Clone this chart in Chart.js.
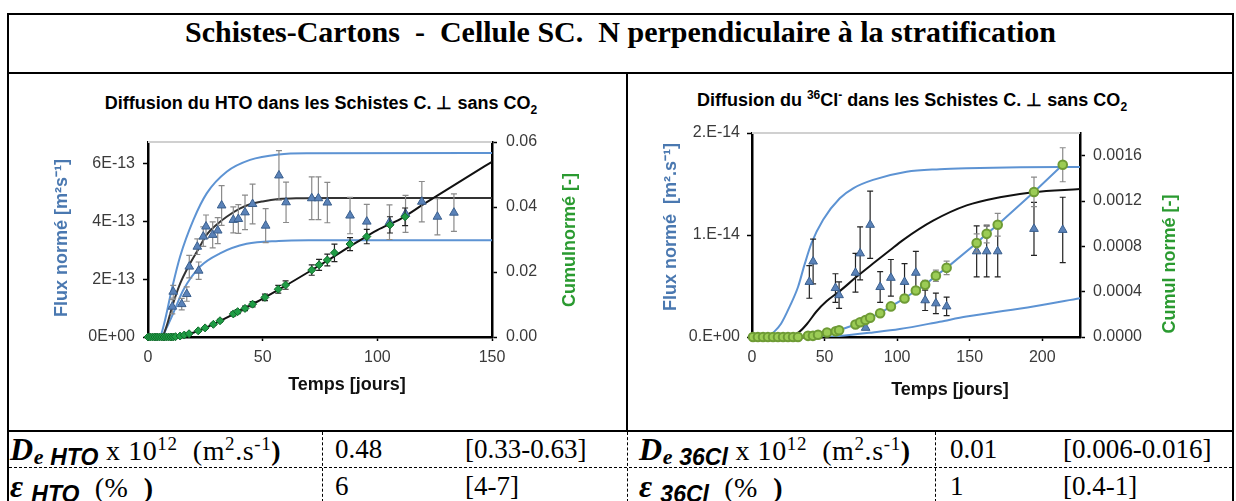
<!DOCTYPE html>
<html>
<head>
<meta charset="utf-8">
<script src="https://cdn.jsdelivr.net/npm/chart.js@4.4.1/dist/chart.umd.min.js"></script>
<style>
  body { margin:0; width:1236px; height:501px; overflow:hidden; background:#fff; position:relative; font-family:"Liberation Sans", Arial, sans-serif; }
  .ln { position:absolute; background:#000; }
  .hd { position:absolute; left:9px; top:15px; width:1223px; height:57px; line-height:57px; text-align:center; font:bold 30px "Liberation Serif", serif; white-space:pre; }
  .ct { position:absolute; font-weight:bold; font-size:18px; text-align:center; white-space:nowrap; line-height:22px; }
  .ct sub, .ct sup { font-size:12px; line-height:0; }
  canvas { position:absolute; top:74px; }
  .tx { position:absolute; font-family:"Liberation Serif", serif; font-size:27px; white-space:pre; line-height:34px; }
  .lb { font-size:28px; letter-spacing:0.6px; }
  .tx .D { font-size:32px; }
  .tx sup { font-size:19px; line-height:0; vertical-align:10px; }
  .tx .sb { font:italic bold 23px "Liberation Sans", sans-serif; vertical-align:-5px; letter-spacing:0; }
  .tx .se { font:italic bold 22px "Liberation Serif", serif; vertical-align:-4px; }
  .dv { position:absolute; top:432px; height:70px; border-left:1px dashed #000; }
  .dh { position:absolute; top:467px; height:0; border-top:1px dashed #000; }
</style>
</head>
<body>
<div class="ln" style="left:7px;top:13px;width:1227px;height:2px"></div>
<div class="ln" style="left:7px;top:13px;width:2px;height:490px"></div>
<div class="ln" style="left:1232px;top:13px;width:2px;height:490px"></div>
<div class="ln" style="left:7px;top:72px;width:1227px;height:2px"></div>
<div class="ln" style="left:626px;top:72px;width:2px;height:359px"></div>
<div class="ln" style="left:7px;top:430px;width:1227px;height:2px"></div>
<div class="dv" style="left:627px"></div>
<div class="dv" style="left:322px"></div>
<div class="dv" style="left:935px"></div>
<div class="dh" style="left:9px;width:1223px"></div>

<div class="hd">Schistes-Cartons  -  Cellule SC.  N perpendiculaire à la stratification</div>

<div class="ct" style="left:9px;width:624px;top:92px">Diffusion du HTO dans les Schistes C. ⊥ sans CO<sub>2</sub></div>
<div class="ct" style="left:630px;width:564px;top:89px">Diffusion du <sup>36</sup>Cl<sup>-</sup> dans les Schistes C. ⊥ sans CO<sub>2</sub></div>

<canvas id="hto" width="617" height="355" style="left:9px"></canvas>
<canvas id="cl" width="602" height="355" style="left:630px"></canvas>

<div class="tx lb" style="left:10px;top:432px"><b><i class="D">D</i></b><span class="se">e </span><span class="sb">HTO</span> x 10<sup>12</sup>  (m<sup>2</sup>.s<sup>-1</sup><b>)</b></div>
<div class="tx" style="left:335px;top:432px">0.48</div>
<div class="tx" style="left:465px;top:432px">[0.33-0.63]</div>
<div class="tx lb" style="left:10px;top:469px"><b><i class="D">ε</i></b> <span class="sb">HTO</span>  (%  <b>)</b></div>
<div class="tx" style="left:335px;top:469px">6</div>
<div class="tx" style="left:465px;top:469px">[4-7]</div>

<div class="tx lb" style="left:639px;top:432px"><b><i class="D">D</i></b><span class="se">e </span><span class="sb">36Cl</span> x 10<sup>12</sup>  (m<sup>2</sup>.s<sup>-1</sup><b>)</b></div>
<div class="tx" style="left:950px;top:432px">0.01</div>
<div class="tx" style="left:1063px;top:432px">[0.006-0.016]</div>
<div class="tx lb" style="left:639px;top:469px"><b><i class="D">ε</i></b> <span class="sb">36Cl</span>  (%  <b>)</b></div>
<div class="tx" style="left:950px;top:469px">1</div>
<div class="tx" style="left:1063px;top:469px">[0.4-1]</div>

<script>
// ---------- HTO (flux in 1e-13 m2/s, cumul in [-]) ----------
const htoDays = [10.6, 11.0, 14.7, 16.9, 18.0, 21.5, 22.1, 24.1, 25.3, 28.2, 30.4, 32.1, 37.2, 39.4, 42.3, 45.6, 51.3, 57.1, 60.2, 71.4, 74.3, 78.2, 88.1, 95.4, 105.3, 112.3, 119.4, 126.2, 133.4];
const htoFlux = [1.05, 1.57, 1.14, 1.49, 2.44, 3.13, 2.30, 3.48, 3.83, 3.54, 3.69, 4.56, 4.06, 4.09, 4.32, 4.61, 3.86, 5.60, 4.67, 4.81, 4.81, 4.66, 4.21, 4.00, 3.98, 4.27, 4.69, 4.17, 4.31];
const htoFluxErr = [0.25, 0.22, 0.2, 0.25, 0.39, 0.27, 0.3, 0.34, 0.4, 0.45, 0.45, 0.69, 0.45, 0.5, 0.6, 0.69, 0.59, 0.86, 0.7, 0.74, 0.74, 0.7, 0.63, 0.6, 0.6, 0.64, 0.7, 0.63, 0.65];

const htoCumDays = [0, 1, 2, 3, 4, 5, 6, 7, 8, 9, 10, 11, 12, 14.0, 15.8, 17.9, 21.9, 24.9, 28.5, 31.4, 37.2, 39.1, 42.3, 45.6, 51.0, 56.8, 60.0, 71.4, 74.6, 78.2, 81.3, 88.1, 95.4, 105.5, 112.1];
const htoCum = [0, 0, 0, 0, 0, 0, 0, 0, 0, 0, 0, 0, 0.0001, 0.0003, 0.0006, 0.0010, 0.0019, 0.0028, 0.0039, 0.0050, 0.0071, 0.0078, 0.0088, 0.0101, 0.0122, 0.0147, 0.0160, 0.0206, 0.0222, 0.0237, 0.0259, 0.0286, 0.0309, 0.0345, 0.0370];
const htoCumErr = [0, 0, 0, 0, 0, 0, 0, 0, 0, 0, 0, 0, 0, 0, 0.0001, 0.0001, 0.0002, 0.0002, 0.0003, 0.0004, 0.0006, 0.0006, 0.0007, 0.0008, 0.001, 0.0012, 0.0013, 0.0016, 0.0017, 0.0018, 0.0027, 0.002, 0.0022, 0.0025, 0.0027];

const htoFitDays = [0, 6, 8, 11, 14, 18, 22, 25.6, 30, 34.3, 40, 44.5, 50, 57, 65, 80, 150];
const htoFitFlux = [0, 0, 0.35, 1.17, 1.85, 2.5, 3.05, 3.55, 3.9, 4.17, 4.45, 4.6, 4.7, 4.78, 4.81, 4.82, 4.82];
const htoHighDays = [0, 5, 7, 10.3, 14, 19.8, 25.6, 34.3, 44.5, 57, 70, 150];
const htoHighFlux = [0, 0, 0.45, 1.63, 2.79, 4.06, 4.98, 5.73, 6.14, 6.33, 6.37, 6.38];
const htoLowDays = [0, 6, 8, 11, 15.4, 22.7, 31.4, 43, 57, 70, 150];
const htoLowFlux = [0, 0, 0.3, 0.82, 1.63, 2.44, 2.9, 3.23, 3.33, 3.35, 3.35];
const htoCumFitDays = [0, 12, 16, 20, 25, 30, 35, 40, 45.6, 50, 60, 70, 80, 90, 100, 110, 120, 130, 140, 150];
const htoCumFit = [0, 0, 0.0006, 0.0014, 0.0028, 0.0044, 0.0062, 0.0081, 0.0101, 0.0118, 0.0158, 0.0200, 0.0243, 0.0287, 0.0329, 0.0363, 0.0408, 0.0452, 0.0496, 0.0539];

const htoDayTicks = [0, 50, 100, 150];
const htoFluxTicks = [0, 2e-13, 4e-13, 6e-13];
const htoFluxLabels = ['0E+00', '2E-13', '4E-13', '6E-13'];
const htoCumTicks = [0, 0.02, 0.04, 0.06];
const htoCumLabels = ['0.00', '0.02', '0.04', '0.06'];

// ---------- 36Cl (flux in 1e-14 m2/s, cumul in [-]) ----------
const clDays = [39.5, 42.1, 57.5, 60.0, 71.3, 74.5, 78.3, 81.4, 88.3, 95.7, 105.1, 112.9, 119.3, 126.7, 134.1, 154.8, 161.7, 169.3, 194.3, 214.1];
const clFlux = [0.54, 0.74, 0.48, 0.41, 0.63, 0.82, 0.09, 1.10, 0.49, 0.58, 0.54, 0.63, 0.36, 0.33, 0.30, 0.84, 0.84, 0.84, 1.06, 1.05];
const clFluxErr = [0.16, 0.22, 0.14, 0.13, 0.19, 0.26, 0, 0.33, 0.15, 0.18, 0.18, 0.21, 0.10, 0.10, 0.09, 0.25, 0.25, 0.25, 0.26, 0.32];

const clCumDays = [0.7, 4.1, 7.6, 11, 14.5, 17.9, 21.4, 24.8, 28.3, 31.7, 38.6, 42, 45.5, 51.7, 57.7, 60, 71.3, 74.5, 78.2, 81.4, 88.3, 95.7, 105.1, 112.9, 119.3, 126.7, 134.1, 154.8, 161.7, 169.3, 194.3, 214.1];
const clCum = [0, 0, 0, 0, 0, 0, 0, 0, 0, 0, 0.00001, 0.00001, 0.00002, 0.00004, 0.00005, 0.00006, 0.00011, 0.00013, 0.00015, 0.00017, 0.00021, 0.00027, 0.00034, 0.00041, 0.00046, 0.00054, 0.00061, 0.00083, 0.00091, 0.00099, 0.00128, 0.00152];
const clCumErr = [0, 0, 0, 0, 0, 0, 0, 0, 0, 0, 0, 0, 0, 0.000005, 0.000005, 0.000005, 0.00001, 0.00001, 0.00001, 0.00001, 0.00002, 0.00002, 0.00003, 0.00003, 0.00004, 0.00005, 0.00006, 0.00008, 0.00008, 0.0001, 0.00013, 0.00015];

const clFitDays = [0, 26, 33, 38, 44.4, 51.3, 60.5, 72, 83.4, 95, 104, 124.8, 147.9, 170.8, 193.8, 226];
const clFitFlux = [0, 0, 0.055, 0.13, 0.25, 0.35, 0.45, 0.59, 0.72, 0.85, 0.95, 1.14, 1.29, 1.37, 1.42, 1.45];
const clHighDays = [0, 11, 14.5, 20, 26, 31.7, 36, 41, 49, 60.5, 70, 83.4, 106.5, 129.4, 147.9, 185, 226];
const clHighFlux = [0, 0, 0.04, 0.13, 0.30, 0.49, 0.70, 0.92, 1.15, 1.36, 1.46, 1.54, 1.62, 1.645, 1.655, 1.665, 1.667];
const clLowDays = [0, 46.6, 60, 83.4, 101.8, 129.4, 147.8, 193.8, 226];
const clLowFlux = [0, 0, 0.01, 0.045, 0.078, 0.15, 0.20, 0.30, 0.38];

const clDayTicks = [0, 50, 100, 150, 200];
const clFluxTicks = [0, 1e-14, 2e-14];
const clFluxLabels = ['0.E+00', '1.E-14', '2.E-14'];
const clCumTicks = [0, 0.0004, 0.0008, 0.0012, 0.0016];
const clCumLabels = ['0.0000', '0.0004', '0.0008', '0.0012', '0.0016'];

const BLUE = '#5d93d3';
const TBLUE = '#4a78b0';
const TGREEN = '#2a9a30';
const FONT = "'Liberation Sans', Arial, sans-serif";

function pts(xs, ys, k) {
    return xs.map((x, i) => ({ x: x, y: ys[i] * (k || 1) }));
}

// vertical error bars drawn under each dataset's markers
const errorBars = {
    id: 'errorBars',
    beforeDatasetDraw(chart, args) {
        const ds = chart.data.datasets[args.index];
        if (!ds.err) return;
        const ys = chart.scales[ds.yAxisID];
        const ctx = chart.ctx;
        ctx.save();
        ctx.strokeStyle = ds.errColor;
        ctx.lineWidth = 1.2;
        args.meta.data.forEach((pt, i) => {
            const e = ds.err[i] * (ds.errScale || 1);
            if (!e) return;
            const v = ds.data[i].y;
            const t = ys.getPixelForValue(v + e), b = ys.getPixelForValue(v - e);
            ctx.beginPath();
            ctx.moveTo(pt.x, t); ctx.lineTo(pt.x, b);
            ctx.moveTo(pt.x - 3, t); ctx.lineTo(pt.x + 3, t);
            ctx.moveTo(pt.x - 3, b); ctx.lineTo(pt.x + 3, b);
            ctx.stroke();
        });
        ctx.restore();
    }
};

// light grey line on top of the plot area
const frameTop = {
    id: 'frameTop',
    beforeDatasetsDraw(chart) {
        const a = chart.chartArea, c = chart.ctx;
        c.save();
        c.strokeStyle = '#d0d0d0';
        c.lineWidth = 2;
        c.beginPath();
        c.moveTo(a.left, a.top); c.lineTo(a.right, a.top);
        c.stroke();
        c.restore();
    }
};

// axis titles placed like the Excel originals (both vertical ones read upward)
function axisTitles(items) {
    return {
        id: 'axisTitles',
        afterDraw(chart) {
            const c = chart.ctx;
            items.forEach(t => {
                c.save();
                c.font = 'bold 18px ' + FONT;
                c.fillStyle = t.color;
                c.textAlign = 'center';
                c.textBaseline = 'middle';
                c.translate(t.x, t.y);
                if (t.rot) c.rotate(-Math.PI / 2);
                c.fillText(t.text, 0, 0);
                c.restore();
            });
        }
    };
}

function axis(pos, max, ticks, labels, size, pad) {
    const vertical = pos !== 'bottom';
    return {
        type: 'linear',
        position: pos,
        min: 0,
        max: max,
        afterBuildTicks: s => { s.ticks = ticks.map(v => ({ value: v })); },
        afterFit: s => { if (vertical) s.width = size; else s.height = size; },
        ticks: {
            autoSkip: false,
            maxRotation: 0,
            padding: pad,
            color: '#3a3a3a',
            font: { family: FONT, size: 16 },
            callback: (v, i) => labels ? labels[i] : String(v)
        },
        grid: { drawOnChartArea: false, tickLength: vertical ? 5 : 4, tickColor: '#000', tickWidth: 1.5 },
        border: { color: '#000', width: 2.5 },
        title: { display: false }
    };
}

function marker(data, axisId, style, bg, edge, r, err, errColor, errScale) {
    return { data: data, yAxisID: axisId, pointStyle: style, backgroundColor: bg, borderColor: edge,
        borderWidth: 1, pointRadius: r, pointHoverRadius: r, showLine: false, clip: false,
        err: err, errColor: errColor, errScale: errScale };
}

function curve(data, axisId, color, w) {
    return { data: data, yAxisID: axisId, showLine: true, borderColor: color, borderWidth: w || 2,
        pointRadius: 0, cubicInterpolationMode: 'monotone', fill: false };
}

const common = {
    responsive: false,
    animation: false,
    devicePixelRatio: 1,
    plugins: { legend: { display: false }, tooltip: { enabled: false } }
};

new Chart(document.getElementById('hto'), {
    type: 'scatter',
    data: {
        datasets: [
            marker(pts(htoCumDays, htoCum), 'y1', 'rectRot', '#1f9d45', '#0f6a2a', 4, htoCumErr, '#222'),
            marker(pts(htoDays, htoFlux, 1e-13), 'y', 'triangle', '#5a82b8', '#3a5f8e', 5, htoFluxErr, '#8a8a8a', 1e-13),
            curve(pts(htoCumFitDays, htoCumFit), 'y1', '#111'),
            curve(pts(htoFitDays, htoFitFlux, 1e-13), 'y', '#333'),
            curve(pts(htoHighDays, htoHighFlux, 1e-13), 'y', BLUE),
            curve(pts(htoLowDays, htoLowFlux, 1e-13), 'y', BLUE)
        ]
    },
    options: Object.assign({}, common, {
        layout: { padding: { top: 68, left: 0, right: 0, bottom: 0 } },
        scales: {
            x: axis('bottom', 150, htoDayTicks, null, 92, 7),
            y: axis('left', 6.76e-13, htoFluxTicks, htoFluxLabels, 139, 8),
            y1: axis('right', 0.06, htoCumTicks, htoCumLabels, 134, 9)
        }
    }),
    plugins: [errorBars, frameTop, axisTitles([
        { text: 'Flux normé [m²s⁻¹]', x: 53, y: 164, rot: true, color: TBLUE },
        { text: 'Cumulnormé [-]', x: 561, y: 166, rot: true, color: TGREEN },
        { text: 'Temps [jours]', x: 338, y: 311, color: '#111' }
    ])]
});

new Chart(document.getElementById('cl'), {
    type: 'scatter',
    data: {
        datasets: [
            Object.assign(marker(pts(clCumDays, clCum), 'y1', 'circle', '#9bcc55', '#6e9b35', 4.3, clCumErr, '#8a8a8a'),
                { showLine: true, borderColor: BLUE, borderWidth: 2, pointBorderColor: '#6e9b35' }),
            marker(pts(clDays, clFlux, 1e-14), 'y', 'triangle', '#5a82b8', '#3a5f8e', 5, clFluxErr, '#222', 1e-14),
            curve(pts(clFitDays, clFitFlux, 1e-14), 'y', '#111'),
            curve(pts(clHighDays, clHighFlux, 1e-14), 'y', BLUE),
            curve(pts(clLowDays, clLowFlux, 1e-14), 'y', BLUE)
        ]
    },
    options: Object.assign({}, common, {
        layout: { padding: { top: 59, left: 0, right: 0, bottom: 0 } },
        scales: {
            x: axis('bottom', 226, clDayTicks, null, 92, 7),
            y: axis('left', 2e-14, clFluxTicks, clFluxLabels, 122, 7),
            y1: axis('right', 0.0018, clCumTicks, clCumLabels, 152, 8)
        }
    }),
    plugins: [errorBars, frameTop, axisTitles([
        { text: 'Flux normé  [m².s⁻¹]', x: 41, y: 153, rot: true, color: TBLUE },
        { text: 'Cumul normé [-]', x: 540, y: 190, rot: true, color: TGREEN },
        { text: 'Temps [jours]', x: 320, y: 316, color: '#111' }
    ])]
});
</script>
</body>
</html>
